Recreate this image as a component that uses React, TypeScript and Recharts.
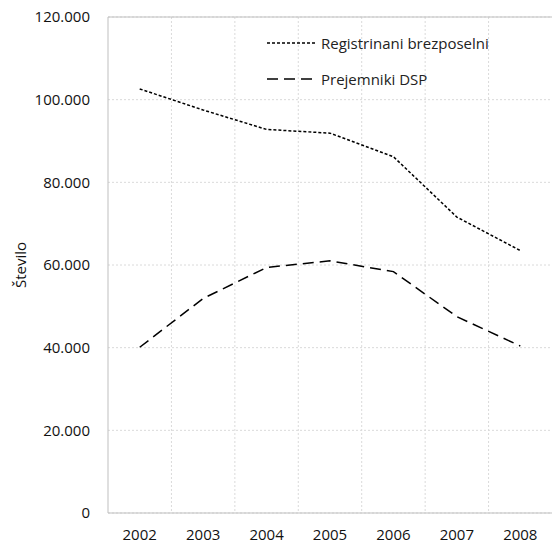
import { LineChart, Line, XAxis, YAxis, CartesianGrid, ReferenceLine } from "recharts"

const years = ["2002", "2003", "2004", "2005", "2006", "2007", "2008"]
const registrirani = [102600, 97500, 92800, 91900, 86200, 71600, 63500]
const prejemnikiDsp = [40100, 51900, 59400, 61000, 58400, 47500, 40400]
const yTicks = [0, 20000, 40000, 60000, 80000, 100000, 120000]

const data = years.map((year, i) => ({
    year,
    reg: registrirani[i],
    dsp: prejemnikiDsp[i],
}))

const series = [
    { key: "reg", name: "Registrinani brezposelni", dash: "3 2" },
    { key: "dsp", name: "Prejemniki DSP", dash: "11 6" },
]

const font = "'Open Sans', sans-serif"
const axisColor = "#bfbfbf"

const fmt = (v: number) => v.toLocaleString("de-DE")

function LegendBox() {
    return (
        <div style={{ position: "absolute", left: 267, top: 25, fontFamily: font, fontSize: 15, color: "#222" }}>
            {series.map((s) => (
                <div key={s.key} style={{ display: "flex", alignItems: "center", height: 36 }}>
                    <svg width={54} height={10}>
                        <line x1={0} y1={5} x2={48} y2={5} stroke="#000" strokeWidth={1.5} strokeDasharray={s.dash} />
                    </svg>
                    <span>{s.name}</span>
                </div>
            ))}
        </div>
    )
}

export default function App() {
    return (
        <div style={{ position: "fixed", left: 0, top: 0, background: "#fff" }}>
            <LineChart width={552} height={543} data={data} margin={{ top: 17, right: 0, bottom: 0, left: 0 }}>
                <CartesianGrid
                    stroke="#dadada"
                    strokeDasharray="2 2"
                    verticalCoordinatesGenerator={({ offset }: any) =>
                        years.slice(1).map((_, i) => offset.left + ((i + 1) * offset.width) / years.length)
                    }
                />
                <XAxis
                    dataKey="year"
                    scale="band"
                    height={30}
                    tickSize={0}
                    tickMargin={16}
                    stroke={axisColor}
                    tick={{ fill: "#111", fontSize: 15, fontFamily: font }}
                />
                <YAxis
                    domain={[0, 120000]}
                    ticks={yTicks}
                    width={108}
                    tickSize={0}
                    tickMargin={18}
                    tickFormatter={fmt}
                    stroke={axisColor}
                    tick={{ fill: "#111", fontSize: 15, fontFamily: font }}
                    label={{ value: "Število", angle: -90, position: "insideLeft", offset: 21, style: { fill: "#111", fontSize: 15, fontFamily: font, textAnchor: "middle" } }}
                />
                <ReferenceLine y={120000} stroke={axisColor} />
                {series.map((s) => (
                    <Line
                        key={s.key}
                        dataKey={s.key}
                        name={s.name}
                        stroke="#000"
                        strokeWidth={1.5}
                        strokeDasharray={s.dash}
                        dot={false}
                        activeDot={false}
                        isAnimationActive={false}
                    />
                ))}
            </LineChart>
            <LegendBox />
        </div>
    )
}
